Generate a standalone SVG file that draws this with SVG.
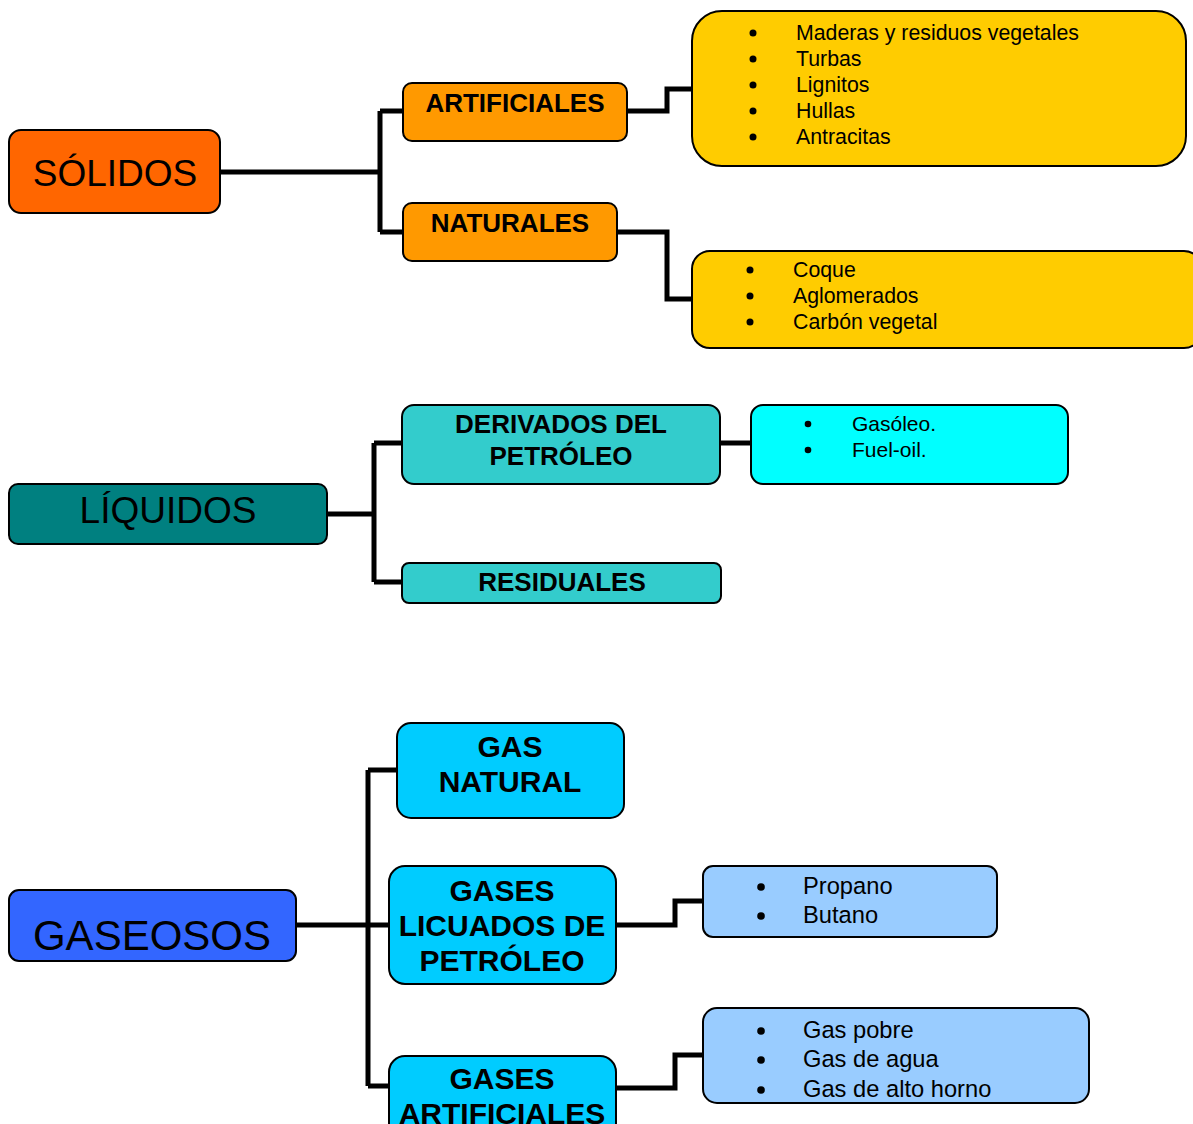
<svg xmlns="http://www.w3.org/2000/svg" width="1193" height="1124" viewBox="0 0 1193 1124">
<style>
.box{stroke:#000;stroke-width:2}
.t{font-family:"Liberation Sans",Arial,sans-serif;fill:#000}
.b{font-weight:bold;text-anchor:middle}
.c{text-anchor:middle}
.con{fill:none;stroke:#000;stroke-width:5;stroke-linejoin:miter}
.dot{fill:#000}
</style>
<rect width="1193" height="1124" fill="#fff"/>
<g id="connectors">
<path class="con" d="M220,172 H380 M380,111 V232 M380,111 H404 M380,232 H404"/>
<path class="con" d="M627,111 H667 V89 H693"/>
<path class="con" d="M617,232 H667 V299 H693"/>
<path class="con" d="M327,514 H374 M374,443 V582 M374,443 H403 M374,582 H403"/>
<path class="con" d="M720,443 H752"/>
<path class="con" d="M296,925 H368 M368,770 V1086 M368,770 H398 M368,925 H390 M368,1086 H390"/>
<path class="con" d="M616,925 H675 V901 H704"/>
<path class="con" d="M616,1088 H675 V1055 H704"/>
</g>
<g id="solidos">
<rect class="box" x="9" y="130" width="211" height="83" rx="12" fill="#FF6600"/>
<text class="t c" x="115" y="186" font-size="37">SÓLIDOS</text>
</g>
<g id="artificiales">
<rect class="box" x="403" y="83" width="224" height="58" rx="9" fill="#FF9900"/>
<text class="t b" x="515" y="112" font-size="26">ARTIFICIALES</text>
</g>
<g id="naturales">
<rect class="box" x="403" y="203" width="214" height="58" rx="9" fill="#FF9900"/>
<text class="t b" x="510" y="232" font-size="26">NATURALES</text>
</g>
<g id="lista-artificiales">
<rect class="box" x="692" y="11" width="494" height="155" rx="30" fill="#FFCC00"/>
<g class="dot"><circle cx="753" cy="33" r="3.5"/><circle cx="753" cy="59" r="3.5"/><circle cx="753" cy="85" r="3.5"/><circle cx="753" cy="111" r="3.5"/><circle cx="753" cy="137" r="3.5"/></g>
<g class="t" font-size="21.3">
<text x="796" y="40">Maderas y residuos vegetales</text>
<text x="796" y="66">Turbas</text>
<text x="796" y="92">Lignitos</text>
<text x="796" y="118">Hullas</text>
<text x="796" y="144">Antracitas</text>
</g>
</g>
<g id="lista-naturales">
<rect class="box" x="692" y="251" width="510" height="97" rx="18" fill="#FFCC00"/>
<g class="dot"><circle cx="750" cy="270" r="3.5"/><circle cx="750" cy="296" r="3.5"/><circle cx="750" cy="322" r="3.5"/></g>
<g class="t" font-size="21.3">
<text x="793" y="277">Coque</text>
<text x="793" y="303">Aglomerados</text>
<text x="793" y="329">Carbón vegetal</text>
</g>
</g>
<g id="liquidos">
<rect class="box" x="9" y="484" width="318" height="60" rx="9" fill="#008080"/>
<text class="t c" x="168" y="523" font-size="37">LÍQUIDOS</text>
</g>
<g id="derivados">
<rect class="box" x="402" y="405" width="318" height="79" rx="12" fill="#33CCCC"/>
<text class="t b" x="561" y="433" font-size="26">DERIVADOS DEL</text>
<text class="t b" x="561" y="465" font-size="26">PETRÓLEO</text>
</g>
<g id="residuales">
<rect class="box" x="402" y="563" width="319" height="40" rx="7" fill="#33CCCC"/>
<text class="t b" x="562" y="591" font-size="26">RESIDUALES</text>
</g>
<g id="lista-derivados">
<rect class="box" x="751" y="405" width="317" height="79" rx="12" fill="#00FFFF"/>
<g class="dot"><circle cx="808" cy="424" r="3.3"/><circle cx="808" cy="450" r="3.3"/></g>
<g class="t" font-size="21">
<text x="852" y="431">Gasóleo.</text>
<text x="852" y="457">Fuel-oil.</text>
</g>
</g>
<g id="gaseosos">
<rect class="box" x="9" y="890" width="287" height="71" rx="10" fill="#3366FF"/>
<text class="t c" x="152" y="950" font-size="42">GASEOSOS</text>
</g>
<g id="gas-natural">
<rect class="box" x="397" y="723" width="227" height="95" rx="14" fill="#00CCFF"/>
<text class="t b" x="510" y="757" font-size="30">GAS</text>
<text class="t b" x="510" y="792" font-size="30">NATURAL</text>
</g>
<g id="glp">
<rect class="box" x="389" y="866" width="227" height="118" rx="16" fill="#00CCFF"/>
<text class="t b" x="502" y="901" font-size="30">GASES</text>
<text class="t b" x="502" y="936" font-size="30">LICUADOS DE</text>
<text class="t b" x="502" y="971" font-size="30">PETRÓLEO</text>
</g>
<g id="gases-artificiales">
<rect class="box" x="389" y="1056" width="227" height="100" rx="16" fill="#00CCFF"/>
<text class="t b" x="502" y="1089" font-size="30">GASES</text>
<text class="t b" x="502" y="1124" font-size="30">ARTIFICIALES</text>
</g>
<g id="lista-glp">
<rect class="box" x="703" y="866" width="294" height="71" rx="10" fill="#99CCFF"/>
<g class="dot"><circle cx="761" cy="887" r="3.8"/><circle cx="761" cy="916" r="3.8"/></g>
<g class="t" font-size="23.7">
<text x="803" y="894">Propano</text>
<text x="803" y="923">Butano</text>
</g>
</g>
<g id="lista-artificiales-gas">
<rect class="box" x="703" y="1008" width="386" height="95" rx="14" fill="#99CCFF"/>
<g class="dot"><circle cx="761" cy="1031" r="3.8"/><circle cx="761" cy="1060" r="3.8"/><circle cx="761" cy="1090" r="3.8"/></g>
<g class="t" font-size="23.7">
<text x="803" y="1038">Gas pobre</text>
<text x="803" y="1067">Gas de agua</text>
<text x="803" y="1097">Gas de alto horno</text>
</g>
</g>
</svg>
